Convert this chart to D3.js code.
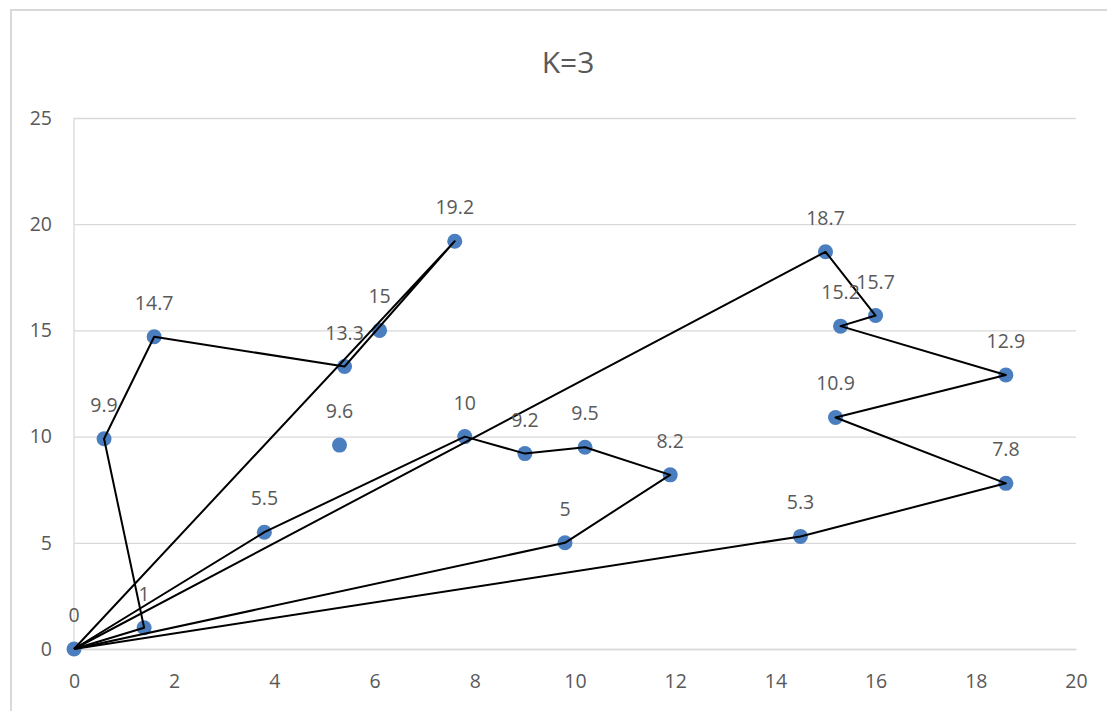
<!DOCTYPE html>
<html>
<head>
<meta charset="utf-8">
<script src="https://cdn.jsdelivr.net/npm/d3@7"></script>
<style>
  html, body { margin: 0; padding: 0; background: #fff; }
  svg { display: block; font-family: "Open Sans", "Liberation Sans", sans-serif; }
</style>
</head>
<body>
<svg id="chart" width="1107" height="711"></svg>
<script>
// Customer locations (x, y) and their value labels
const pointX = [0, 1.4, 0.6, 1.6, 5.4, 6.1, 7.6, 5.3, 3.8, 7.8, 9.0, 10.2, 11.9, 9.8, 15.0, 16.0, 15.3, 18.6, 15.2, 18.6, 14.5];
const pointY = [0, 1, 9.9, 14.7, 13.3, 15, 19.2, 9.6, 5.5, 10, 9.2, 9.5, 8.2, 5, 18.7, 15.7, 15.2, 12.9, 10.9, 7.8, 5.3];
const pointLabels = ["0", "1", "9.9", "14.7", "13.3", "15", "19.2", "9.6", "5.5", "10", "9.2", "9.5", "8.2", "5", "18.7", "15.7", "15.2", "12.9", "10.9", "7.8", "5.3"];

// Three vehicle routes, each a sequence of point indices starting and ending at the depot (index 0)
const routeA = [0, 1, 2, 3, 4, 6, 0];
const routeB = [0, 8, 9, 10, 11, 12, 13, 0];
const routeC = [0, 20, 19, 18, 17, 16, 15, 14, 0];
const routes = [routeA, routeB, routeC];

// Axis ticks
const xTicks = [0, 2, 4, 6, 8, 10, 12, 14, 16, 18, 20];
const yTicks = [0, 5, 10, 15, 20, 25];

const chartTitle = "K=3";

const svg = d3.select("#chart");
const W = 1107, H = 711;
const plot = { left: 74, right: 1076, top: 118, bottom: 649 };
const textColor = "#595959";
const gridColor = "#d9d9d9";
const fontStack = "\"Open Sans\", \"Liberation Sans\", sans-serif";

// Outer chart frame
svg.append("rect")
  .attr("x", 11).attr("y", 10)
  .attr("width", W + 20).attr("height", H + 20)
  .attr("fill", "#fff")
  .attr("stroke", "#d9d9d9")
  .attr("stroke-width", 2);

const x = d3.scaleLinear().domain([0, 20]).range([plot.left, plot.right]);
const y = d3.scaleLinear().domain([0, 25]).range([plot.bottom, plot.top]);

// Horizontal gridlines
svg.append("g")
  .attr("transform", `translate(${plot.left},0)`)
  .call(d3.axisLeft(y).tickValues(yTicks).tickSize(-(plot.right - plot.left)).tickFormat(""))
  .call(g => g.select(".domain").remove())
  .call(g => g.selectAll("line").attr("stroke", gridColor).attr("stroke-width", 1.3));

// Vertical axis line
svg.append("line")
  .attr("x1", plot.left).attr("x2", plot.left)
  .attr("y1", plot.top).attr("y2", plot.bottom)
  .attr("stroke", gridColor).attr("stroke-width", 1.3);

// Y tick labels
svg.append("g")
  .attr("transform", `translate(${plot.left},0)`)
  .call(d3.axisLeft(y).tickValues(yTicks).tickSize(0).tickPadding(22).tickFormat(d3.format("d")))
  .call(g => g.select(".domain").remove())
  .call(g => g.selectAll("text")
    .attr("fill", textColor)
    .style("font-size", "19.5px")
    .style("font-family", fontStack));

// X tick labels
svg.append("g")
  .attr("transform", `translate(0,${plot.bottom})`)
  .call(d3.axisBottom(x).tickValues(xTicks).tickSize(0).tickPadding(25).tickFormat(d3.format("d")))
  .call(g => g.select(".domain").attr("stroke", gridColor).attr("stroke-width", 1.3))
  .call(g => g.selectAll("text")
    .attr("fill", textColor)
    .style("font-size", "19.5px")
    .style("font-family", fontStack));

// Route lines
const line = d3.line()
  .x(i => x(pointX[i]))
  .y(i => y(pointY[i]));

// Points
const idx = d3.range(pointX.length);
svg.append("g")
  .selectAll("circle")
  .data(idx)
  .join("circle")
  .attr("cx", i => x(pointX[i]))
  .attr("cy", i => y(pointY[i]))
  .attr("r", 7.5)
  .attr("fill", "#4a7ebf");

// Routes drawn over the markers
svg.append("g")
  .selectAll("path")
  .data(routes)
  .join("path")
  .attr("d", line)
  .attr("fill", "none")
  .attr("stroke", "#000")
  .attr("stroke-width", 2)
  .attr("stroke-linejoin", "round");

// Value labels above each point
svg.append("g")
  .selectAll("text")
  .data(idx)
  .join("text")
  .attr("x", i => x(pointX[i]))
  .attr("y", i => y(pointY[i]) - 27)
  .attr("text-anchor", "middle")
  .attr("fill", textColor)
  .style("font-size", "19.5px")
  .text(i => pointLabels[i]);

// Title
svg.append("text")
  .attr("x", 568)
  .attr("y", 73)
  .attr("text-anchor", "middle")
  .attr("fill", textColor)
  .style("font-size", "30px")
  .text(chartTitle);
</script>
</body>
</html>
